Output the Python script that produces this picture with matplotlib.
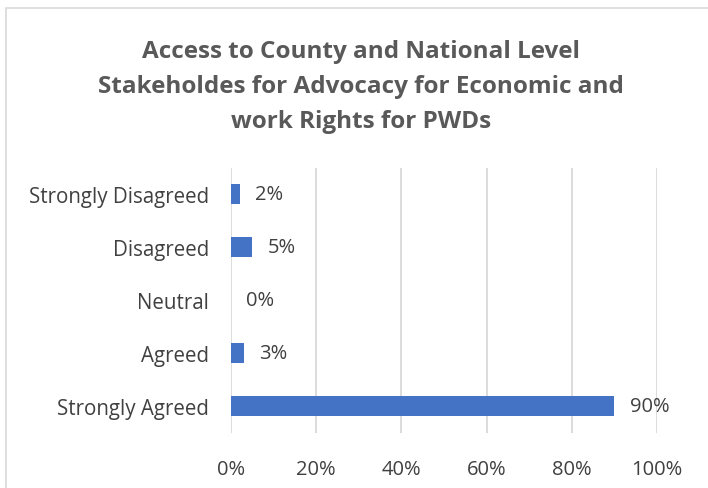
import matplotlib
matplotlib.use("Agg")
import matplotlib.pyplot as plt
from matplotlib.patches import Rectangle

categories = ["Strongly Disagreed", "Disagreed", "Neutral", "Agreed", "Strongly Agreed"]
values = [2, 5, 0, 3, 90]
xticks = [0, 20, 40, 60, 80, 100]
title = "Access to County and National Level\nStakeholdes for Advocacy for Economic and\nwork Rights for PWDs"

plt.rcParams['font.family'] = ['Open Sans', 'DejaVu Sans']

fig = plt.figure(figsize=(7.08, 4.89), dpi=100)
fig.patch.set_facecolor('white')
# chart border
fig.add_artist(Rectangle((6/708, -0.05), 1.2, 1 - 9/489 + 0.05, transform=fig.transFigure,
                         fill=False, edgecolor='#d9d9d9', linewidth=1.2))

ax = fig.add_axes([231/708, 1 - 433.5/489, 426/708, 265/489])
ypos = list(range(len(categories)))
ax.barh(ypos, values, height=0.36, color='#4472c4', zorder=3)
ax.set_ylim(len(categories) - 0.5, -0.5)
ax.set_xlim(0, 100)
ax.set_yticks(ypos)
ax.set_yticklabels(categories, fontsize=14.8, color='#404040')
ax.set_xticks(xticks)
ax.set_xticklabels([f"{t}%" for t in xticks], fontsize=14.5, color='#404040')
ax.tick_params(axis='y', length=0, pad=16)
ax.tick_params(axis='x', length=0, pad=19)
for s in ax.spines.values():
    s.set_visible(False)
ax.grid(axis='x', color='#d9d9d9', linewidth=1.3, zorder=0)
ax.grid(axis='y', visible=False)

for y, v in zip(ypos, values):
    ax.annotate(f"{v}%", xy=(v, y), xytext=(11, 0), textcoords='offset points',
                ha='left', va='center', fontsize=14.5, color='#404040')

fig.text(361/708, 1 - 87/489, title, ha='center', va='center', fontsize=17.5,
         fontweight='bold', color='#595959', linespacing=1.6)

fig.savefig("out.png", dpi=100)
